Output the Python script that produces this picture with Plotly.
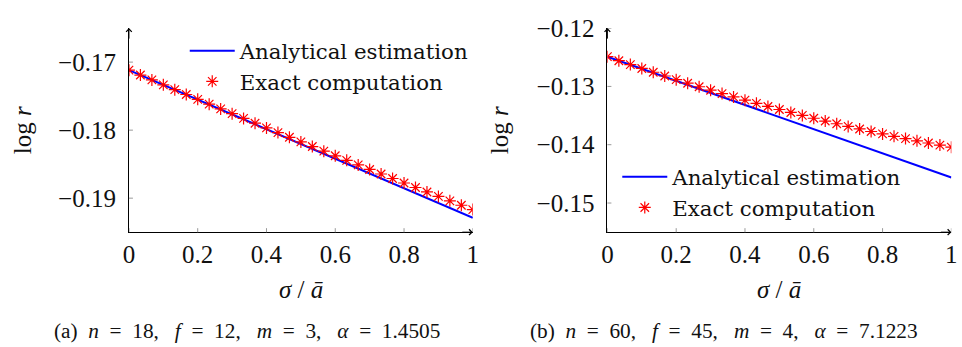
import plotly.graph_objects as go

# ---------------- data ----------------
SIGMA_EXACT = [0.0, 0.0333, 0.0667, 0.1, 0.1333, 0.1667, 0.2, 0.2333, 0.2667, 0.3,
               0.3333, 0.3667, 0.4, 0.4333, 0.4667, 0.5, 0.5333, 0.5667, 0.6, 0.6333,
               0.6667, 0.7, 0.7333, 0.7667, 0.8, 0.8333, 0.8667, 0.9, 0.9333, 0.9667, 1.0]
SIGMA_LINE = [0.0, 0.1, 0.2, 0.3, 0.4, 0.5, 0.6, 0.7, 0.8, 0.9, 1.0]

# (a) n=18, f=12, m=3
A_ANALYTICAL = [-0.17118, -0.17335, -0.17552, -0.17769, -0.17986, -0.18203,
                -0.18420, -0.18637, -0.18854, -0.19071, -0.19288]
A_EXACT = [-0.17118, -0.17190, -0.17262, -0.17334, -0.17405, -0.17476, -0.17547,
           -0.17618, -0.17688, -0.17758, -0.17828, -0.17898, -0.17967, -0.18036,
           -0.18105, -0.18173, -0.18241, -0.18309, -0.18377, -0.18444, -0.18511,
           -0.18578, -0.18645, -0.18711, -0.18777, -0.18843, -0.18909, -0.18974,
           -0.19039, -0.19104, -0.19168]

# (b) n=60, f=45, m=4
B_ANALYTICAL = [-0.12490, -0.12697, -0.12904, -0.13112, -0.13319, -0.13526,
                -0.13733, -0.13940, -0.14148, -0.14355, -0.14562]
B_EXACT = [-0.12490, -0.12559, -0.12626, -0.12692, -0.12757, -0.12821, -0.12884,
           -0.12945, -0.13006, -0.13065, -0.13123, -0.13180, -0.13236, -0.13290,
           -0.13344, -0.13396, -0.13447, -0.13497, -0.13546, -0.13594, -0.13640,
           -0.13686, -0.13730, -0.13773, -0.13815, -0.13856, -0.13895, -0.13934,
           -0.13971, -0.14007, -0.14042]

X_TICKS = [0, 0.2, 0.4, 0.6, 0.8, 1]
X_TICK_TEXT = ["0", "0.2", "0.4", "0.6", "0.8", "1"]
A_Y_TICKS = [-0.19, -0.18, -0.17]
B_Y_TICKS = [-0.15, -0.14, -0.13, -0.12]
A_Y_RANGE = [-0.195, -0.165]
B_Y_RANGE = [-0.155, -0.12]
X_RANGE = [0, 1]

LEGEND_NAMES = ["Analytical estimation", "Exact computation"]
NB = "\u00a0"
CAPTIONS = [
    f"(a){NB} <i>n</i>{NB} ={NB} 18,{NB}{NB} <i>f</i>{NB} ={NB} 12,{NB}{NB} "
    f"<i>m</i>{NB} ={NB} 3,{NB}{NB} <i>α</i>{NB} ={NB} 1.4505",
    f"(b){NB} <i>n</i>{NB} ={NB} 60,{NB}{NB} <i>f</i>{NB} ={NB} 45,{NB}{NB} "
    f"<i>m</i>{NB} ={NB} 4,{NB}{NB} <i>α</i>{NB} ={NB} 7.1223",
]
X_TITLE = "<i>σ</i> / <i>ā</i>"
Y_TITLE = "log <i>r</i>"

FONT = "Liberation Serif"
LEG_FONT = "DejaVu Serif"
INK = "#111"
W, H = 962, 347

fig = go.Figure()

panels = [
    dict(xa="x", ya="y", ana=A_ANALYTICAL, ex=A_EXACT, yt=A_Y_TICKS, yr=A_Y_RANGE,
         leg="legend"),
    dict(xa="x2", ya="y2", ana=B_ANALYTICAL, ex=B_EXACT, yt=B_Y_TICKS, yr=B_Y_RANGE,
         leg="legend2"),
]

for p in panels:
    fig.add_trace(go.Scatter(x=SIGMA_LINE, y=p["ana"], mode="lines",
                             line=dict(color="#0000ff", width=2),
                             name=LEGEND_NAMES[0], xaxis=p["xa"], yaxis=p["ya"],
                             legend=p["leg"]))
    fig.add_trace(go.Scatter(x=SIGMA_EXACT, y=p["ex"], mode="markers",
                             marker=dict(symbol="asterisk-open", size=10,
                                         line=dict(color="#ff0000", width=1.2),
                                         color="#ff0000"),
                             name=LEGEND_NAMES[1], xaxis=p["xa"], yaxis=p["ya"],
                             legend=p["leg"]))

# domains in paper coords
XD1 = [124.5 / W, 472.7 / W]
XD2 = [609.0 / W, 957.3 / W]
YD = [(H - 227.7) / H, (H - 15.7) / H]

axis_common = dict(showgrid=False, zeroline=False, showline=True, linecolor="#000",
                   linewidth=1, ticks="", tickfont=dict(family=FONT, size=25, color=INK))

legend_common = dict(xanchor="left", yanchor="top", bgcolor="rgba(0,0,0,0)",
                     font=dict(family=LEG_FONT, size=21.3, color=INK),
                     itemwidth=45, tracegroupgap=0)

fig.update_layout(
    width=W, height=H, autosize=False,
    margin=dict(l=0, r=0, t=0, b=0),
    paper_bgcolor="white", plot_bgcolor="white",
    font=dict(family=FONT, color=INK),
    xaxis=dict(domain=XD1, range=X_RANGE, anchor="y", tickvals=X_TICKS,
               ticktext=X_TICK_TEXT, ticklabelstandoff=0, **axis_common),
    yaxis=dict(domain=YD, range=A_Y_RANGE, anchor="x", tickvals=A_Y_TICKS,
               tickformat=".2f", ticklabelstandoff=7, **axis_common),
    xaxis2=dict(domain=XD2, range=X_RANGE, anchor="y2", tickvals=X_TICKS,
                ticktext=X_TICK_TEXT, ticklabelstandoff=0, **axis_common),
    yaxis2=dict(domain=YD, range=B_Y_RANGE, anchor="x2", tickvals=B_Y_TICKS,
                tickformat=".2f", ticklabelstandoff=7, **axis_common),
    legend=dict(x=181 / W, y=(H - 18) / H, **legend_common),
    legend2=dict(x=619 / W, y=(H - 149) / H, **legend_common),
)

# crossing tick marks (pgfplots style), built from the tick lists
for p in panels:
    for t in X_TICKS:
        fig.add_shape(type="line", xref=p["xa"], yref=p["ya"], x0=t, x1=t,
                      ysizemode="pixel", yanchor=p["yr"][0], y0=-4, y1=4,
                      line=dict(color="#999", width=1))
    for t in p["yt"]:
        fig.add_shape(type="line", xref=p["xa"], yref=p["ya"], y0=t, y1=t,
                      xsizemode="pixel", xanchor=X_RANGE[0], x0=-4, x1=4,
                      line=dict(color="#999", width=1))
    # axis arrows
    fig.add_annotation(x=X_RANGE[1], y=p["yr"][0], xref=p["xa"], yref=p["ya"],
                       ax=-12, ay=0, text="", showarrow=True, arrowhead=4,
                       arrowsize=1.1, arrowwidth=1, arrowcolor="#000", standoff=0)
    fig.add_annotation(x=X_RANGE[0], y=p["yr"][1], xref=p["xa"], yref=p["ya"],
                       ax=0, ay=12, text="", showarrow=True, arrowhead=4,
                       arrowsize=1.1, arrowwidth=1, arrowcolor="#000", standoff=0)

# axis titles
for xc in [(XD1[0] + XD1[1]) / 2, (XD2[0] + XD2[1]) / 2]:
    fig.add_annotation(x=xc, y=(H - 287) / H, xref="paper", yref="paper",
                       xanchor="center", yanchor="middle",
                       text=X_TITLE, showarrow=False,
                       font=dict(family=FONT, size=25, color=INK))
for xp in [17 / W, 500 / W]:
    fig.add_annotation(x=xp, y=(H - 122) / H, xref="paper", yref="paper",
                       xanchor="center", yanchor="middle",
                       text=Y_TITLE, showarrow=False, textangle=-90,
                       font=dict(family=FONT, size=25, color=INK))

# captions
for txt, xc in zip(CAPTIONS, [244 / W, 727 / W]):
    fig.add_annotation(x=xc, y=(H - 330) / H, xref="paper", yref="paper",
                       xanchor="center", yanchor="middle",
                       text=txt, showarrow=False,
                       font=dict(family=FONT, size=21.3, color=INK))

fig.write_html("out.html")
